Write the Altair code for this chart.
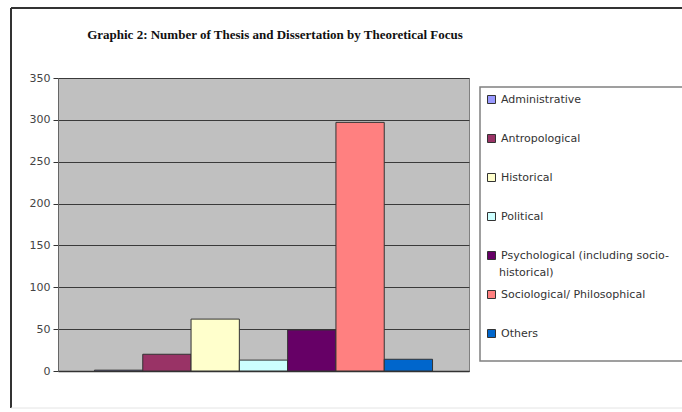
import altair as alt
import pandas as pd

categories = [
    "Administrative",
    "Antropological",
    "Historical",
    "Political",
    "Psychological (including socio-historical)",
    "Sociological/ Philosophical",
    "Others",
]
counts = [1, 20, 62, 13, 49, 297, 14]
colors = ["#9999FF", "#993366", "#FFFFCC", "#CCFFFF", "#660066", "#FF8080", "#0066CC"]
y_ticks = [0, 50, 100, 150, 200, 250, 300, 350]
title_text = "Graphic 2: Number of Thesis and Dissertation by Theoretical Focus"
psych_line1 = "Psychological (including socio-"
psych_line2 = "historical)"

df = pd.DataFrame({"focus": categories, "count": counts})
one = alt.Data(values=[{"k": 1}])

bars = alt.Chart(df).mark_bar(stroke="#333333", strokeWidth=1).encode(
    x=alt.X(
        "focus:N",
        sort=categories,
        scale=alt.Scale(paddingInner=0, paddingOuter=0.755),
        axis=alt.Axis(labels=False, ticks=False, title=None, grid=False,
                      domainColor="#333333", domainWidth=1.5),
    ),
    y=alt.Y(
        "count:Q",
        scale=alt.Scale(domain=[0, 350], nice=False),
        axis=alt.Axis(values=y_ticks, title=None, tickSize=5, tickColor="#333333",
                      labelColor="#444444", labelFontSize=11, labelFont="DejaVu Sans",
                      labelPadding=3, domainColor="#666666", gridColor="#3a3a3a",
                      gridWidth=1.2),
    ),
    color=alt.Color(
        "focus:N",
        sort=categories,
        scale=alt.Scale(domain=categories, range=colors),
        legend=alt.Legend(
            title=None, orient="none", legendX=428, legendY=16, padding=0,
            symbolType="square", symbolSize=64, symbolStrokeColor="#333333",
            symbolStrokeWidth=1, symbolOpacity=1, rowPadding=26,
            labelFont="DejaVu Sans", labelFontSize=11, labelColor="#333333",
            labelOffset=4, labelLimit=400,
            labelExpr=f"datum.label == '{categories[4]}' ? '{psych_line1}' : datum.label",
        ),
    ),
)

legend_box = alt.Chart(one).mark_rect(fill="white", stroke="#808080", strokeWidth=1.5).encode(
    x=alt.value(422), x2=alt.value(700), y=alt.value(9), y2=alt.value(283)
)

legend_wrap = alt.Chart(one).mark_text(
    text=psych_line2, font="DejaVu Sans", fontSize=11, color="#333333",
    align="left", baseline="middle",
).encode(x=alt.value(441), y=alt.value(195))

frame_top = alt.Chart(one).mark_rule(color="#333333", strokeWidth=2).encode(
    x=alt.value(-47), x2=alt.value(700), y=alt.value(-70)
)
frame_left = alt.Chart(one).mark_rule(color="#333333", strokeWidth=2).encode(
    x=alt.value(-47), y=alt.value(-70), y2=alt.value(330)
)
frame_bottom = alt.Chart(one).mark_rule(color="#e4e4e4", strokeWidth=1).encode(
    x=alt.value(-47), x2=alt.value(700), y=alt.value(330)
)

title = alt.Chart(one).mark_text(
    text=title_text, font="Liberation Serif", fontSize=13, fontWeight="bold",
    color="#111111", align="center", baseline="middle",
).encode(x=alt.value(217), y=alt.value(-43))

chart = alt.layer(frame_top, frame_left, frame_bottom, legend_box, bars, legend_wrap, title).properties(
    width=411, height=293,
    autosize=alt.AutoSizeParams(type="none"),
    padding={"left": 58, "top": 78, "right": 213, "bottom": 41},
    background="white",
).configure_view(fill="#C0C0C0", stroke="#808080", strokeWidth=1)

chart.save("out.html", embed_options={"renderer": "svg", "actions": False})
